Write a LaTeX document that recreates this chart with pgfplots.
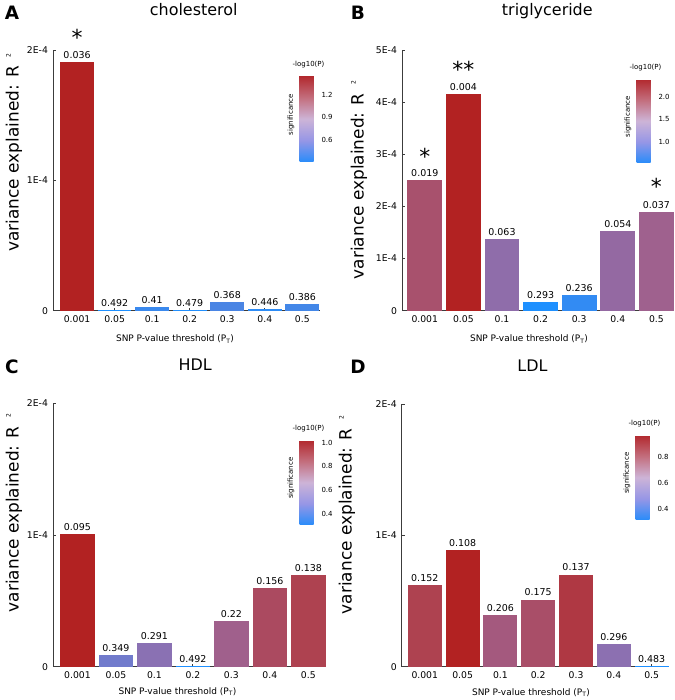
\documentclass[border=0pt]{standalone}
\usepackage{pgfplots}
\pgfplotsset{compat=1.18}
\usepackage{fontspec}
\setmainfont{DejaVu Sans}
\definecolor{c0}{RGB}{30,144,255}
\definecolor{c25}{RGB}{130,119,194}
\definecolor{c50}{RGB}{161,95,138}
\definecolor{c75}{RGB}{174,69,85}
\definecolor{c100}{RGB}{178,34,34}
\definecolor{axgray}{RGB}{60,60,60}
\newcommand{\fs}[1]{\fontsize{#1}{#1}\selectfont}
\newcommand{\ylab}{variance explained: R\hspace{9bp}\raisebox{8bp}{\fs{6}2}}
\newcommand{\barp}[4]{\addplot[ybar, bar shift=0pt, bar width=0.9, fill=#3, draw=none,
  point meta=explicit symbolic, nodes near coords, nodes near coords align=vertical,
  every node near coord/.append style={font=\fs{9.5}, text=black}]
  coordinates {(#1,#2) [#4]};}
\pgfplotsset{
  colormap={sigcb}{rgb255=(40,140,250) rgb255=(150,150,230) rgb255=(205,180,215) rgb255=(195,110,125) rgb255=(178,40,45)},
  panel/.style={
    scale only axis, anchor=south west, clip=false,
    axis lines*=left, axis line style={axgray, line width=0.8bp},
    ymin=0, xtick={0,...,6}, xticklabels={0.001,0.05,0.1,0.2,0.3,0.4,0.5},
    scaled y ticks=false,
    tick style={axgray, line width=0.8bp},
    tick align=inside, major tick length=3bp,
    tick label style={font=\fs{9.3}, text=black},
    yticklabel style={xshift=-1.5bp},
    xticklabel style={yshift=-1bp},
    /pgf/number format/assume math mode=true,
    colorbar, colormap name=sigcb,
    colorbar style={
      scale only axis, width=18bp,
      axis line style={draw=none},
      yticklabel pos=right, ytick pos=right,
      tick style={white, line width=0.8bp}, major tick length=3bp, tick align=center,
      yticklabel style={font=\fs{7}, text=black, xshift=-1bp,
        /pgf/number format/.cd, fixed, fixed zerofill, precision=1, assume math mode=true},
      title={-log10(P)}, title style={font=\fs{7}, at={(axis description cs:0.5,1)}, anchor=south, inner sep=1.5bp},
      ylabel={significance}, ylabel style={font=\fs{7}, at={(axis description cs:-0.47,0.55)}, anchor=center},
    },
  },
  cb/.style n args={4}{colorbar style={at={(parent axis.south west)}, anchor=south west,
      xshift=#1, yshift=#2, height=#3, ytick={#4}}},
}
\begin{document}
\begin{tikzpicture}
\path[use as bounding box] (0,0) rectangle (675bp,700bp);
% ---------------- A ----------------
\begin{axis}[panel, at={(53bp,389.3bp)}, width=267bp, height=260.7bp,
  xmin=-0.64, xmax=6.47, ymax=2e-4,
  ytick={0,1e-4,2e-4}, yticklabels={0,1E-4,2E-4},
  point meta min=0.308, point meta max=1.444,
  cb={238bp}{148.7bp}{86bp}{0.6,0.9,1.2}]
\barp{0}{1.906e-4}{c100}{0.036}
\barp{1}{0.003e-4}{c0}{0.492}
\barp{2}{0.028e-4}{c25!28!c0}{0.41}
\barp{3}{0.002e-4}{c25!4!c0}{0.479}
\barp{4}{0.067e-4}{c25!44!c0}{0.368}
\barp{5}{0.010e-4}{c25!15!c0}{0.446}
\barp{6}{0.049e-4}{c25!37!c0}{0.386}
\node[font=\fs{22}, anchor=base] at (axis cs:0,2.032e-4) {*};
\end{axis}
% ---------------- B ----------------
\begin{axis}[panel, at={(402bp,389.3bp)}, width=271bp, height=260.7bp,
  xmin=-0.59, xmax=6.43, ymax=5e-4,
  ytick={0,1e-4,2e-4,3e-4,4e-4,5e-4}, yticklabels={0,1E-4,2E-4,3E-4,4E-4,5E-4},
  point meta min=0.533, point meta max=2.398,
  cb={226bp}{147.7bp}{84bp}{1.0,1.5,2.0}]
\barp{0}{2.51e-4}{c75!55!c50}{0.019}
\barp{1}{4.16e-4}{c100}{0.004}
\barp{2}{1.376e-4}{c50!43!c25}{0.063}
\barp{3}{0.167e-4}{c0}{0.293}
\barp{4}{0.30e-4}{c25!20!c0}{0.236}
\barp{5}{1.53e-4}{c50!58!c25}{0.054}
\barp{6}{1.89e-4}{c50!93!c25}{0.037}
\node[font=\fs{22}, anchor=base] at (axis cs:0,2.806e-4) {*};
\node[font=\fs{22}, anchor=base] at (axis cs:1,4.470e-4) {**};
\node[font=\fs{22}, anchor=base] at (axis cs:6,2.230e-4) {*};
\end{axis}
% ---------------- C ----------------
\begin{axis}[panel, at={(53bp,33.3bp)}, width=273bp, height=263.4bp,
  xmin=-0.636, xmax=6.46, ymax=2e-4,
  ytick={0,1e-4,2e-4}, yticklabels={0,1E-4,2E-4},
  point meta min=0.308, point meta max=1.022,
  cb={238bp}{141.7bp}{85bp}{0.4,0.6,0.8,1.0}]
\barp{0}{1.005e-4}{c100}{0.095}
\barp{1}{0.089e-4}{c25!83!c0}{0.349}
\barp{2}{0.177e-4}{c50!27!c25}{0.291}
\barp{3}{0.002e-4}{c0}{0.492}
\barp{4}{0.347e-4}{c50!96!c25}{0.22}
\barp{5}{0.597e-4}{c75!80!c50}{0.156}
\barp{6}{0.696e-4}{c100!9!c75}{0.138}
\end{axis}
% ---------------- D ----------------
\begin{axis}[panel, at={(401.7bp,33.3bp)}, width=266.6bp, height=262.7bp,
  xmin=-0.61, xmax=6.44, ymax=2e-4,
  ytick={0,1e-4,2e-4}, yticklabels={0,1E-4,2E-4},
  point meta min=0.316, point meta max=0.967,
  cb={225.3bp}{146.7bp}{85bp}{0.4,0.6,0.8}]
\barp{0}{0.62e-4}{c100!9!c75}{0.152}
\barp{1}{0.891e-4}{c100}{0.108}
\barp{2}{0.395e-4}{c75!22!c50}{0.206}
\barp{3}{0.511e-4}{c75!65!c50}{0.175}
\barp{4}{0.701e-4}{c100!36!c75}{0.137}
\barp{5}{0.17e-4}{c50!31!c25}{0.296}
\barp{6}{0.003e-4}{c0}{0.483}
\end{axis}
% ---------------- text ----------------
\node[font=\bfseries\fs{18.5}, anchor=base] at (12bp,680bp) {A};
\node[font=\bfseries\fs{18.5}, anchor=base] at (358bp,680bp) {B};
\node[font=\bfseries\fs{18.5}, anchor=base] at (12bp,326.7bp) {C};
\node[font=\bfseries\fs{18.5}, anchor=base] at (358bp,326.7bp) {D};
\node[font=\fs{16}, anchor=base] at (193.7bp,684.3bp) {cholesterol};
\node[font=\fs{16}, anchor=base] at (547.3bp,684bp) {triglyceride};
\node[font=\fs{16}, anchor=base] at (195.3bp,329.3bp) {HDL};
\node[font=\fs{16}, anchor=base] at (532.5bp,328.3bp) {LDL};
\node[font=\fs{17}, rotate=90] at (14bp,547.5bp) {\ylab};
\node[font=\fs{17}, rotate=90] at (359bp,520bp) {\ylab};
\node[font=\fs{17}, rotate=90] at (14bp,187bp) {\ylab};
\node[font=\fs{17}, rotate=90] at (347bp,185bp) {\ylab};
\node[font=\fs{9}] at (175bp,361bp) {SNP P-value threshold (P\textsubscript{T})};
\node[font=\fs{9}] at (529bp,361bp) {SNP P-value threshold (P\textsubscript{T})};
\node[font=\fs{9}] at (177.5bp,8.3bp) {SNP P-value threshold (P\textsubscript{T})};
\node[font=\fs{9}] at (531bp,7.3bp) {SNP P-value threshold (P\textsubscript{T})};
\end{tikzpicture}
\end{document}
